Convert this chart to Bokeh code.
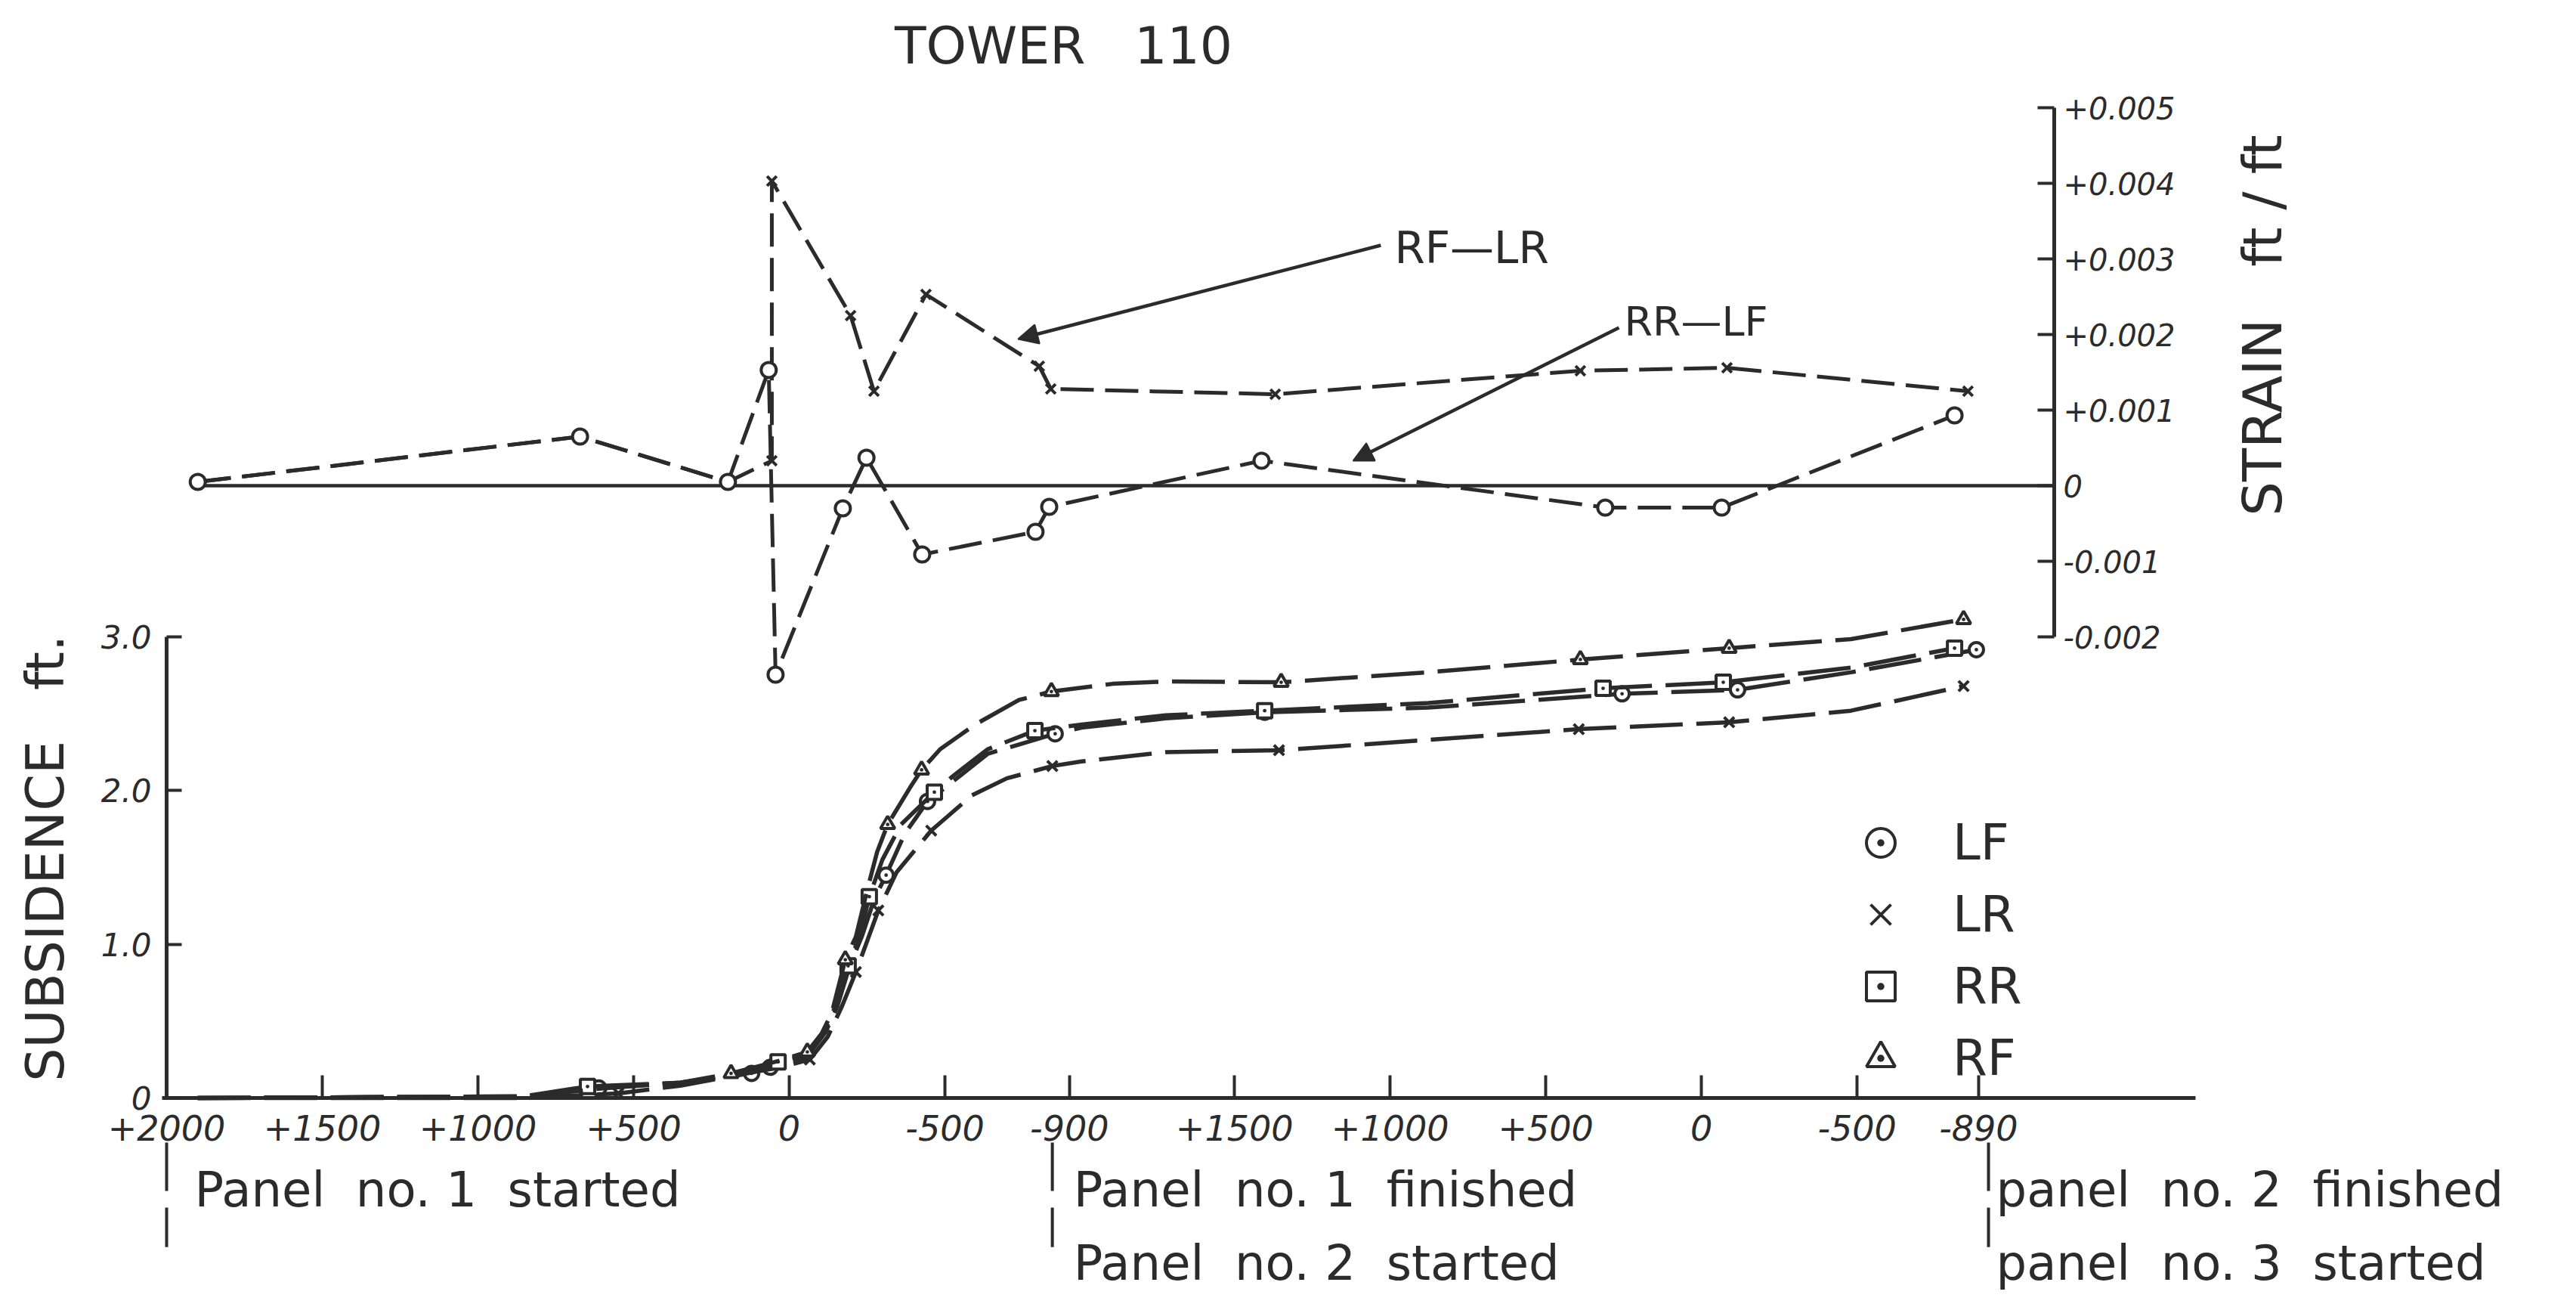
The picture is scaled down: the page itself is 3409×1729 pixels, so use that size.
import math
from bokeh.plotting import figure
from bokeh.models import (Range1d, LinearAxis, FixedTicker, Arrow, NormalHead,
                          Label, Legend, LegendItem)
from bokeh.embed import file_html
from bokeh.resources import INLINE

# ------------------------------------------------------------------ data
# x = face advance along the combined horizontal axis (ft).
# Panel 1 runs from +2000 ft to -900 ft, panel 2 from +1500 ft to -890 ft.
P2_ORIGIN = 3430          # advance at which panel 2 stands at +1500 ft
tick_p1 = [2000, 1500, 1000, 500, 0, -500, -900]
tick_p2 = [1500, 1000, 500, 0, -500, -890]
tick_labels = ["+2000", "+1500", "+1000", "+500", "0", "-500", "-900",
               "+1500", "+1000", "+500", "0", "-500", "-890"]
tick_adv = [2000 - v for v in tick_p1] + [P2_ORIGIN + 1500 - v for v in tick_p2]

sub_ticks = [0, 1, 2, 3]
sub_labels = ["0", "1.0", "2.0", "3.0"]
strain_ticks = [-0.002, -0.001, 0.0, 0.001, 0.002, 0.003, 0.004, 0.005]
strain_labels = ["-0.002", "-0.001", "0", "+0.001", "+0.002", "+0.003", "+0.004", "+0.005"]

# subsidence (ft) — curves as drawn
LF_x = [100, 1146, 1388, 1650, 1879, 1939, 2058, 2117, 2155, 2194, 2233, 2274, 2311, 2371,
        2444, 2507, 2638, 2854, 2939, 3209, 3527, 4053, 4675, 5046, 5410, 5813]
LF_s = [0.0, 0.01, 0.065, 0.10, 0.16, 0.20, 0.27, 0.43, 0.60, 0.86, 1.05, 1.30, 1.45, 1.72,
        1.93, 2.03, 2.24, 2.37, 2.41, 2.47, 2.51, 2.54, 2.63, 2.656, 2.77, 2.917]
LR_x = [100, 1146, 1451, 1650, 1971, 2066, 2124, 2170, 2214, 2250, 2286, 2345, 2456, 2587,
        2699, 2845, 2939, 3209, 3573, 4053, 4536, 5019, 5410, 5772]
LR_s = [0.0, 0.0, 0.03, 0.08, 0.20, 0.25, 0.40, 0.60, 0.82, 1.02, 1.22, 1.47, 1.74, 1.97,
        2.08, 2.16, 2.19, 2.25, 2.263, 2.33, 2.40, 2.445, 2.52, 2.68]
RR_x = [100, 1146, 1352, 1650, 1879, 1964, 2058, 2117, 2153, 2189, 2226, 2257, 2299, 2359,
        2466, 2529, 2638, 2789, 2939, 3209, 3527, 4053, 4614, 5000, 5410, 5743]
RR_s = [0.0, 0.01, 0.075, 0.10, 0.17, 0.235, 0.28, 0.45, 0.62, 0.86, 1.05, 1.31, 1.55, 1.78,
        1.99, 2.10, 2.27, 2.39, 2.43, 2.49, 2.52, 2.57, 2.666, 2.705, 2.80, 2.927]
RF_x = [100, 1146, 1388, 1650, 1813, 1964, 2058, 2104, 2136, 2180, 2214, 2250, 2282, 2316,
        2388, 2425, 2485, 2597, 2738, 2842, 3039, 3209, 3580, 4053, 4541, 5019, 5410, 5772]
RF_s = [0.0, 0.01, 0.06, 0.10, 0.16, 0.24, 0.30, 0.42, 0.55, 0.90, 1.05, 1.35, 1.60, 1.78,
        2.02, 2.135, 2.27, 2.43, 2.59, 2.645, 2.695, 2.71, 2.705, 2.77, 2.853, 2.927, 2.986, 3.114]

# subsidence survey points (markers)
LF_px = [1388, 1879, 1939, 2311, 2444, 2854, 3527, 4675, 5046, 5813]
LF_ps = [0.065, 0.16, 0.20, 1.45, 1.93, 2.37, 2.51, 2.63, 2.656, 2.917]
LR_px = [1451, 2066, 2214, 2286, 2456, 2845, 3573, 4536, 5019, 5772]
LR_ps = [0.03, 0.25, 0.82, 1.22, 1.74, 2.16, 2.263, 2.40, 2.445, 2.68]
RR_px = [1352, 1964, 2189, 2257, 2466, 2789, 3527, 4614, 5000, 5743]
RR_ps = [0.075, 0.235, 0.86, 1.31, 1.99, 2.39, 2.52, 2.666, 2.705, 2.927]
RF_px = [1813, 2058, 2180, 2316, 2425, 2842, 3580, 4541, 5019, 5772]
RF_ps = [0.16, 0.30, 0.90, 1.78, 2.135, 2.645, 2.705, 2.853, 2.927, 3.114]

# strain (ft/ft)
RFLR_x = [100, 1328, 1803, 1944, 1944, 2197, 2272, 2439, 2803, 2840, 3561, 4541, 5012, 5786]
RFLR_e = [0.00005, 0.00065, 0.00005, 0.00033, 0.00403, 0.00225, 0.00125, 0.00253,
          0.00158, 0.00128, 0.00121, 0.00152, 0.00156, 0.00125]
RRLF_x = [100, 1328, 1803, 1934, 1956, 2172, 2248, 2427, 2791, 2835, 3517, 4621, 4995, 5743]
RRLF_e = [0.00005, 0.00065, 0.00005, 0.00153, -0.0025, -0.0003, 0.00037, -0.00091,
          -0.00061, -0.00028, 0.00033, -0.00029, -0.00029, 0.00093]

# events along the axis
event_adv = [0, 2845, 5852]
NB = "\u00a0"
event_text = [["Panel" + NB * 2 + "no. 1" + NB * 2 + "started"],
              ["Panel" + NB * 2 + "no. 1" + NB * 2 + "finished",
               "Panel" + NB * 2 + "no. 2" + NB * 2 + "started"],
              ["panel" + NB * 2 + "no. 2" + NB * 2 + "finished",
               "panel" + NB * 2 + "no. 3" + NB * 2 + "started"]]

# ------------------------------------------------------------------ layout
W, H = 3393, 1713
PX_PER_FT = 0.412          # horizontal scale
X0 = 228 - 8               # canvas x of zero advance
SUB_PX = 203.3             # px per ft of subsidence
SUB0 = 1460 - 8            # canvas y of zero subsidence
STR_PX = 1.0e5             # px per unit strain
STR0 = 650 - 8             # canvas y of zero strain
STRAIN_AXIS_X = 6063
X_AXIS_END = 6517

C = "#2b2b2b"
FONT = "DejaVu Sans"
DASH_SUB = "70 18"
DASH_STR = "44 15"

x_rng = Range1d(-X0 / PX_PER_FT, (W - X0) / PX_PER_FT)
y_rng = Range1d((SUB0 - H) / SUB_PX, SUB0 / SUB_PX)
e_rng = Range1d((STR0 - H) / STR_PX, STR0 / STR_PX)

p = figure(width=W, height=H, x_range=x_rng, y_range=y_rng,
           x_axis_type=None, y_axis_type=None, toolbar_location=None,
           output_backend="svg", min_border=0, outline_line_color=None,
           background_fill_color="white", border_fill_color="white")
p.extra_y_ranges = {"strain": e_rng}


def style_axis(ax, size):
    ax.axis_line_color = C
    ax.axis_line_width = 5
    ax.major_tick_line_color = C
    ax.major_tick_line_width = 4
    ax.minor_tick_line_color = None
    ax.major_tick_out = 0
    ax.major_label_text_font = FONT
    ax.major_label_text_font_style = "italic"
    ax.major_label_text_font_size = size
    ax.major_label_text_color = C


ax_b = LinearAxis(fixed_location=0, bounds=(-15, X_AXIS_END),
                  ticker=FixedTicker(ticks=tick_adv),
                  major_label_overrides=dict(zip(tick_adv, tick_labels)))
style_axis(ax_b, "46px")
ax_b.major_tick_in = 30
ax_b.major_label_standoff = 22
p.add_layout(ax_b, "below")

ax_l = LinearAxis(fixed_location=0, bounds=(0, 3),
                  ticker=FixedTicker(ticks=sub_ticks),
                  major_label_overrides=dict(zip(sub_ticks, sub_labels)))
style_axis(ax_l, "42px")
ax_l.major_tick_in = 20
ax_l.major_label_standoff = 20
p.add_layout(ax_l, "left")

ax_r = LinearAxis(y_range_name="strain", fixed_location=STRAIN_AXIS_X,
                  bounds=(-0.002, 0.005),
                  ticker=FixedTicker(ticks=strain_ticks),
                  major_label_overrides=dict(zip(strain_ticks, strain_labels)))
style_axis(ax_r, "40px")
ax_r.major_tick_in = 22
ax_r.major_label_standoff = 12
p.add_layout(ax_r, "right")

# strain zero line
p.segment(x0=[RFLR_x[0]], y0=[0], x1=[STRAIN_AXIS_X], y1=[0], y_range_name="strain",
          line_color=C, line_width=4.5)

# strain series
p.line(RFLR_x, RFLR_e, y_range_name="strain", line_color=C, line_width=5, line_dash=DASH_STR)
p.scatter(RFLR_x, RFLR_e, y_range_name="strain", marker="x", size=18,
          line_color=C, line_width=4)
p.line(RRLF_x, RRLF_e, y_range_name="strain", line_color=C, line_width=5, line_dash=DASH_STR)
p.scatter(RRLF_x, RRLF_e, y_range_name="strain", marker="circle", size=20,
          line_color=C, line_width=4, fill_color="white")

# subsidence series
marks = {}
for name, lx, ly, mx, my, mk in [
        ("LF", LF_x, LF_s, LF_px, LF_ps, "circle_dot"),
        ("LR", LR_x, LR_s, LR_px, LR_ps, "x"),
        ("RR", RR_x, RR_s, RR_px, RR_ps, "square_dot"),
        ("RF", RF_x, RF_s, RF_px, RF_ps, "triangle_dot")]:
    p.line(lx, ly, line_color=C, line_width=5.5, line_dash=DASH_SUB)
    marks[name] = p.scatter(mx, my, marker=mk, size=19, line_color=C, line_width=4,
                            fill_color="white")

legend = Legend(items=[LegendItem(label=k, renderers=[marks[k]]) for k in ["LF", "LR", "RR", "RF"]],
                location=(2441, 266), orientation="vertical",
                glyph_width=95, glyph_height=95, spacing=0, padding=0, margin=0,
                label_standoff=48, label_text_font=FONT, label_text_font_size="66px",
                label_text_color=C, label_height=95,
                background_fill_alpha=0, border_line_color=None)
p.add_layout(legend, "center")

# arrows with labels
arrow_specs = [((3900, 0.00318), (2735, 0.00194)), ((4665, 0.00209), (3811, 0.00033))]
for (xs, ys), (xe, ye) in arrow_specs:
    p.add_layout(Arrow(end=NormalHead(size=26, fill_color=C, line_color=C, line_width=2),
                       x_start=xs, y_start=ys, x_end=xe, y_end=ye,
                       y_range_name="strain", line_color=C, line_width=4.5))
p.add_layout(Label(x=3944, y=0.00315, y_range_name="strain", text="RF\u2014LR",
                   text_font=FONT, text_font_size="58px", text_color=C,
                   text_baseline="middle", text_align="left"))
p.add_layout(Label(x=4682, y=0.00217, y_range_name="strain", text="RR\u2014LF",
                   text_font=FONT, text_font_size="54px", text_color=C,
                   text_baseline="middle", text_align="left"))

# title and axis titles
p.add_layout(Label(x=2881, y=0.00582, y_range_name="strain", text="TOWER" + NB * 3 + "110",
                   text_font=FONT, text_font_size="68px", text_color=C,
                   text_baseline="middle", text_align="center"))
p.add_layout(Label(x=-390, y=1.56, text="SUBSIDENCE" + NB * 3 + "ft.", angle=math.pi / 2,
                   text_font=FONT, text_font_size="70px", text_color=C,
                   text_baseline="middle", text_align="center"))
p.add_layout(Label(x=6733, y=0.00212, y_range_name="strain", text="STRAIN" + NB * 3 + "ft / ft",
                   angle=math.pi / 2, text_font=FONT, text_font_size="72px", text_color=C,
                   text_baseline="middle", text_align="center"))

# event markers below the axis
p.segment(x0=event_adv, y0=[-0.29] * 3, x1=event_adv, y1=[-0.97] * 3,
          line_color=C, line_width=4, line_dash="64 22")
offsets = [37, 28, 10]
rows = [-0.60, -1.075]
for xa, texts, off in zip(event_adv, event_text, offsets):
    for t, yy in zip(texts, rows):
        p.add_layout(Label(x=xa, y=yy, x_offset=off, text=t, text_font=FONT,
                           text_font_size="64px", text_color=C,
                           text_baseline="middle", text_align="left"))

open("out.html", "w").write(file_html(p, INLINE))
